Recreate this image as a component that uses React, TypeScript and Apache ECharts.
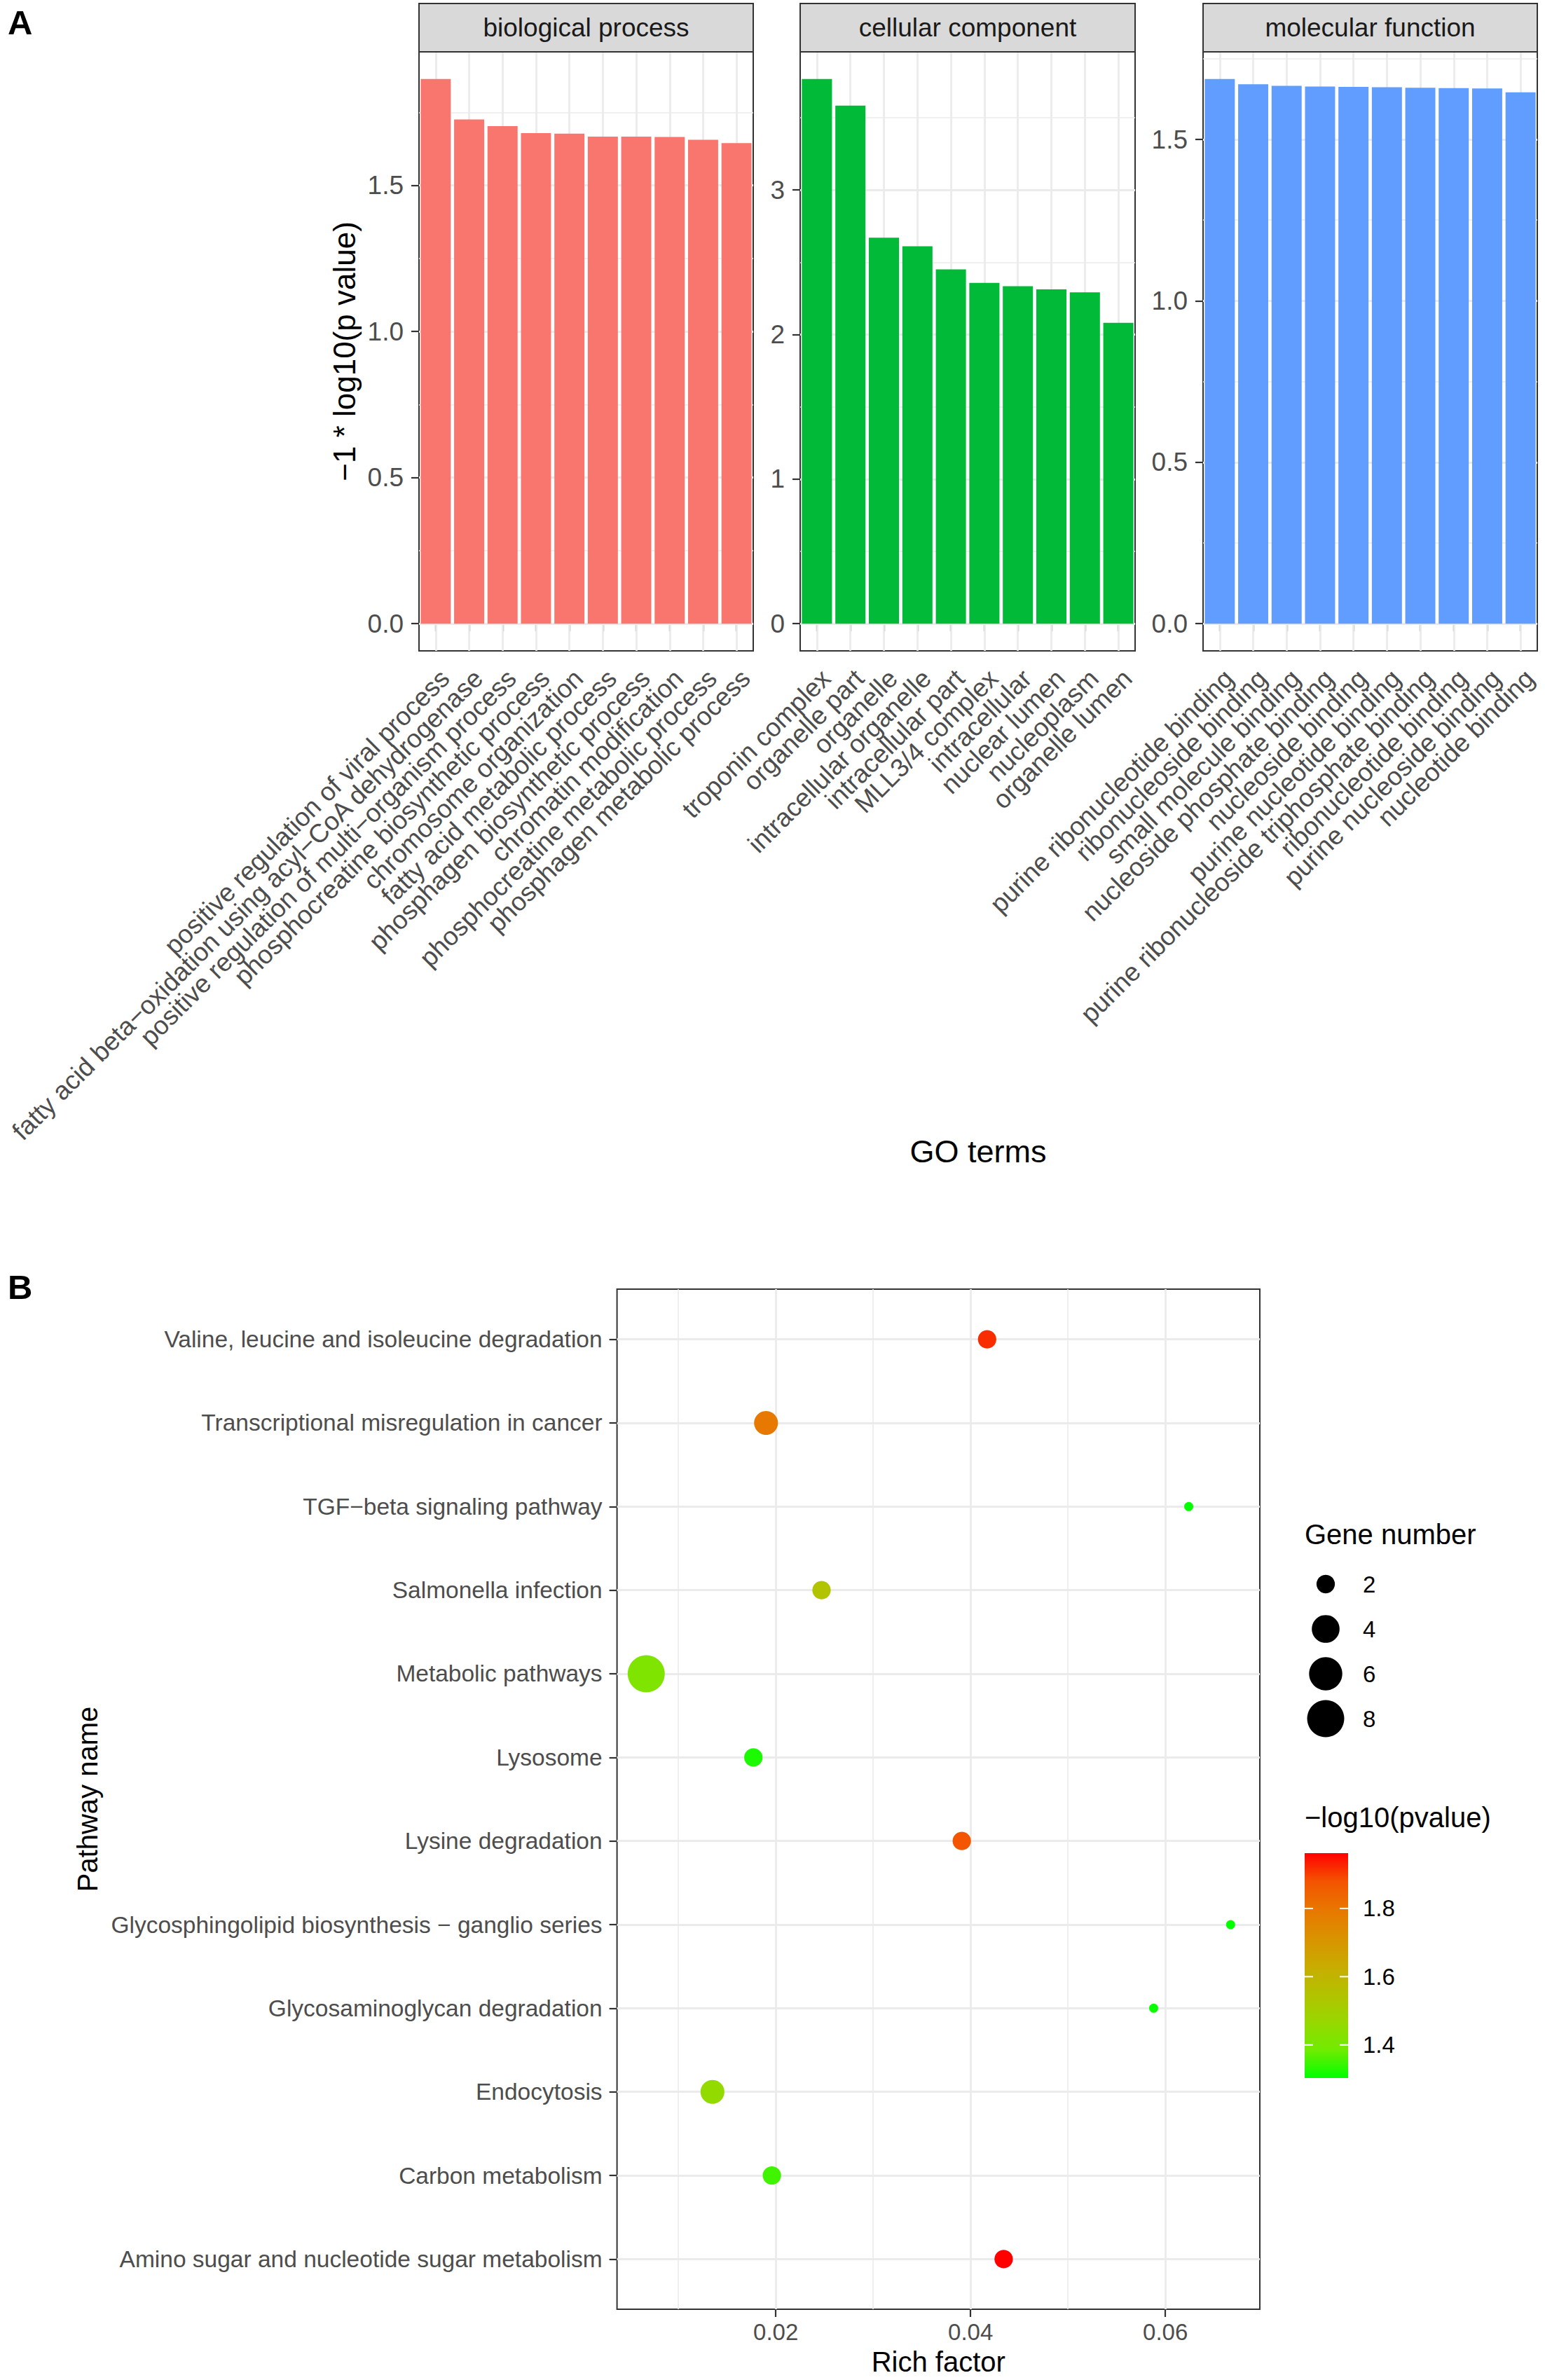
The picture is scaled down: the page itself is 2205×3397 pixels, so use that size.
import React, { useEffect, useRef } from "react";
import * as echarts from "echarts";

// ---------------- DATA ----------------
const bpTerms = [
  "positive regulation of viral process",
  "fatty acid beta−oxidation using acyl−CoA dehydrogenase",
  "positive regulation of multi−organism process",
  "phosphocreatine biosynthetic process",
  "chromosome organization",
  "fatty acid metabolic process",
  "phosphagen biosynthetic process",
  "chromatin modification",
  "phosphocreatine metabolic process",
  "phosphagen metabolic process",
];
const bpValues = [1.864, 1.726, 1.703, 1.679, 1.677, 1.667, 1.667, 1.666, 1.656, 1.645];

const ccTerms = [
  "troponin complex",
  "organelle part",
  "organelle",
  "intracellular organelle",
  "intracellular part",
  "MLL3/4 complex",
  "intracellular",
  "nuclear lumen",
  "nucleoplasm",
  "organelle lumen",
];
const ccValues = [3.767, 3.583, 2.67, 2.61, 2.451, 2.357, 2.334, 2.312, 2.292, 2.081];

const mfTerms = [
  "purine ribonucleotide binding",
  "ribonucleoside binding",
  "small molecule binding",
  "nucleoside phosphate binding",
  "nucleoside binding",
  "purine nucleotide binding",
  "purine ribonucleoside triphosphate binding",
  "ribonucleotide binding",
  "purine nucleoside binding",
  "nucleotide binding",
];
const mfValues = [1.687, 1.671, 1.666, 1.664, 1.663, 1.662, 1.66, 1.659, 1.658, 1.646];

const bpMajor = [0, 0.5, 1.0, 1.5];
const bpMinor = [0.25, 0.75, 1.25, 1.75];
const ccMajor = [0, 1, 2, 3];
const ccMinor = [0.5, 1.5, 2.5, 3.5];
const mfMajor = [0, 0.5, 1.0, 1.5];
const mfMinor = [0.25, 0.75, 1.25, 1.75];

// Panel B (top to bottom)
const pathwayNames = [
  "Valine, leucine and isoleucine degradation",
  "Transcriptional misregulation in cancer",
  "TGF−beta signaling pathway",
  "Salmonella infection",
  "Metabolic pathways",
  "Lysosome",
  "Lysine degradation",
  "Glycosphingolipid biosynthesis − ganglio series",
  "Glycosaminoglycan degradation",
  "Endocytosis",
  "Carbon metabolism",
  "Amino sugar and nucleotide sugar metabolism",
];
const richFactor = [0.0417, 0.019, 0.0624, 0.0247, 0.0067, 0.0177, 0.0391, 0.0667, 0.0588, 0.0135, 0.0196, 0.0434];
const geneNumber = [2, 3, 1, 2, 8, 2, 2, 1, 1, 3, 2, 2];
const negLog10P = [1.916, 1.79, 1.305, 1.547, 1.415, 1.323, 1.876, 1.303, 1.31, 1.455, 1.35, 1.962];

const richMajor = [0.02, 0.04, 0.06];
const richMinor = [0.01, 0.03, 0.05];
const geneBreaks = [2, 4, 6, 8];
const pBreaks = [1.4, 1.6, 1.8];

// ---------------- STYLE / LAYOUT ----------------
const W = 2205;
const H = 3397;
const FONT = "'Liberation Sans', Arial, Helvetica, sans-serif";
const AXIS_TEXT = "#4D4D4D";
const TICK = "#333333";
const GRID_LINE = "#EBEBEB";
const colorStops = ["#00FF00", "#70EB00", "#98D700", "#B3C200", "#C9AB00", "#DA9200", "#E87700", "#F45300", "#FF0000"];

const A_LEFT = [598, 1142, 1717];
const A_WIDTH = [477, 478, 477];
const STRIP_TOP = 5;
const A_TOP = 74;
const A_BOTTOM = 929;

const B_LEFT = 880.6;
const B_TOP = 1840;
const B_RIGHT = 1798;
const B_BOTTOM = 3296;

const sizeOf = (n: number) => 13 + 19.2 * Math.log(n);

function buildOption() {
  const panels = [
    { title: "biological process", terms: bpTerms, values: bpValues, color: "#F8766D", majors: bpMajor, minors: bpMinor, digits: 1 },
    { title: "cellular component", terms: ccTerms, values: ccValues, color: "#00BA38", majors: ccMajor, minors: ccMinor, digits: 0 },
    { title: "molecular function", terms: mfTerms, values: mfValues, color: "#619CFF", majors: mfMajor, minors: mfMinor, digits: 1 },
  ];

  const grids: any[] = [];
  const xAxes: any[] = [];
  const yAxes: any[] = [];
  const series: any[] = [];
  const graphic: any[] = [];

  const markLineBase = {
    silent: true,
    symbol: ["none", "none"],
    label: { show: false },
    emphasis: { disabled: true },
    lineStyle: { color: GRID_LINE, type: "solid", width: 2.8 },
    z: 1,
    animation: false,
  };

  panels.forEach((p, i) => {
    const vmax = Math.max(...p.values);
    grids.push({
      left: A_LEFT[i],
      top: A_TOP,
      width: A_WIDTH[i],
      height: A_BOTTOM - A_TOP,
      show: true,
      borderColor: TICK,
      borderWidth: 2,
      backgroundColor: "transparent",
      containLabel: false,
      outerBoundsMode: "none",
    });
    xAxes.push({
      type: "category",
      gridIndex: i,
      data: p.terms,
      boundaryGap: true,
      axisLine: { show: false },
      axisTick: { show: true, alignWithLabel: true, length: 11, lineStyle: { color: TICK, width: 2.2 } },
      axisLabel: {
        interval: 0,
        rotate: 45,
        align: "right",
        verticalAlign: "top",
        margin: 20,
        color: AXIS_TEXT,
        fontSize: 37,
        fontFamily: FONT,
        hideOverlap: false,
      },
      splitLine: { show: false },
    });
    yAxes.push({
      type: "value",
      gridIndex: i,
      min: -0.05 * vmax,
      max: 1.05 * vmax,
      axisLine: { show: false },
      axisTick: { show: true, length: 11, lineStyle: { color: TICK, width: 2.2 }, customValues: p.majors },
      axisLabel: {
        customValues: p.majors,
        formatter: (v: number) => v.toFixed(p.digits),
        color: AXIS_TEXT,
        fontSize: 37,
        fontFamily: FONT,
        margin: 22,
        showMinLabel: true,
        showMaxLabel: true,
      },
      splitLine: { show: false },
    });
    series.push({
      type: "bar",
      xAxisIndex: i,
      yAxisIndex: i,
      data: p.values,
      barCategoryGap: "10%",
      itemStyle: { color: p.color },
      z: 2,
      markLine: {
        ...markLineBase,
        data: [
          ...p.minors.map((v) => ({ yAxis: v, lineStyle: { width: 1.6 } })),
          ...p.majors.map((v) => ({ yAxis: v, lineStyle: { width: 2.8 } })),
          ...p.terms.map((t) => ({ xAxis: t, lineStyle: { width: 2.8 } })),
        ],
      },
    });
    // strip
    graphic.push({
      type: "rect",
      shape: { x: A_LEFT[i], y: STRIP_TOP, width: A_WIDTH[i], height: A_TOP - STRIP_TOP },
      style: { fill: "#D9D9D9", stroke: TICK, lineWidth: 2 },
      z: 10,
    });
    graphic.push({
      type: "text",
      x: A_LEFT[i] + A_WIDTH[i] / 2,
      y: (STRIP_TOP + A_TOP) / 2,
      style: {
        text: p.title,
        fill: "#1A1A1A",
        fontSize: 37,
        fontFamily: FONT,
        align: "center",
        verticalAlign: "middle",
        textAlign: "center",
        textVerticalAlign: "middle",
      },
      z: 11,
    });
  });

  // ---------- Panel B ----------
  const n = pathwayNames.length;
  const xmin = Math.min(...richFactor);
  const xmax = Math.max(...richFactor);
  const xr = xmax - xmin;
  const idxs = pathwayNames.map((_, i) => n - i);
  grids.push({
    left: B_LEFT,
    top: B_TOP,
    width: B_RIGHT - B_LEFT,
    height: B_BOTTOM - B_TOP,
    show: true,
    borderColor: TICK,
    borderWidth: 2,
    backgroundColor: "transparent",
    containLabel: false,
    outerBoundsMode: "none",
  });
  xAxes.push({
    type: "value",
    gridIndex: 3,
    min: xmin - 0.05 * xr,
    max: xmax + 0.05 * xr,
    axisLine: { show: false },
    axisTick: { show: true, length: 11, lineStyle: { color: TICK, width: 2.2 }, customValues: richMajor },
    axisLabel: {
      customValues: richMajor,
      formatter: (v: number) => v.toFixed(2),
      color: AXIS_TEXT,
      fontSize: 33,
      fontFamily: FONT,
      margin: 16,
    },
    splitLine: { show: false },
  });
  yAxes.push({
    type: "value",
    gridIndex: 3,
    min: 0.4,
    max: n + 0.6,
    axisLine: { show: false },
    axisTick: { show: true, length: 11, lineStyle: { color: TICK, width: 2.2 }, customValues: idxs },
    axisLabel: {
      customValues: idxs,
      formatter: (v: number) => pathwayNames[n - Math.round(v)] ?? "",
      color: AXIS_TEXT,
      fontSize: 33.5,
      fontFamily: FONT,
      margin: 21,
    },
    splitLine: { show: false },
  });
  const scatterIndex = series.length;
  series.push({
    type: "scatter",
    xAxisIndex: 3,
    yAxisIndex: 3,
    data: pathwayNames.map((nm, i) => [richFactor[i], n - i, negLog10P[i], geneNumber[i], nm]),
    encode: { x: 0, y: 1 },
    symbol: "circle",
    symbolSize: (val: any) => sizeOf(val[3]),
    itemStyle: { opacity: 1 },
    z: 2,
    markLine: {
      ...markLineBase,
      data: [
        ...richMinor.map((v) => ({ xAxis: v, lineStyle: { width: 1.6 } })),
        ...richMajor.map((v) => ({ xAxis: v, lineStyle: { width: 2.8 } })),
        ...idxs.map((v) => ({ yAxis: v, lineStyle: { width: 2.8 } })),
      ],
    },
  });

  const pMin = Math.min(...negLog10P);
  const pMax = Math.max(...negLog10P);

  // ---------- Titles ----------
  const txt = (text: string, x: number, y: number, size: number, opts: any = {}) => ({
    type: "text",
    x,
    y,
    rotation: opts.rotation || 0,
    style: {
      text,
      fill: opts.fill || "#000000",
      fontSize: size,
      fontFamily: FONT,
      fontWeight: opts.bold ? "bold" : "normal",
      align: opts.align || "center",
      verticalAlign: "middle",
      textAlign: opts.align || "center",
      textVerticalAlign: "middle",
    },
    z: 12,
  });

  graphic.push(txt("A", 11, 32, 49, { bold: true, align: "left" }));
  graphic.push(txt("B", 11, 1837, 49, { bold: true, align: "left" }));
  graphic.push(txt("−1 * log10(p value)", 491, (A_TOP + A_BOTTOM) / 2, 44, { rotation: Math.PI / 2 }));
  graphic.push(txt("GO terms", (A_LEFT[0] + A_LEFT[2] + A_WIDTH[2]) / 2, 1643, 45));
  graphic.push(txt("Pathway name", 125, (B_TOP + B_BOTTOM) / 2, 40, { rotation: Math.PI / 2 }));
  graphic.push(txt("Rich factor", (B_LEFT + B_RIGHT) / 2, 3371, 40));

  // ---------- Size legend ----------
  const LEG_X = 1862;
  graphic.push(txt("Gene number", LEG_X, 2190, 40, { align: "left" }));
  geneBreaks.forEach((b, i) => {
    const cy = 2261 + i * 64;
    graphic.push({ type: "circle", shape: { cx: 1892, cy, r: sizeOf(b) / 2 }, style: { fill: "#000000" }, z: 12 });
    graphic.push(txt(String(b), 1945, cy, 33, { align: "left" }));
  });

  // ---------- Colour bar ----------
  const CB_X = 1862;
  const CB_Y = 2645;
  const CB_W = 62;
  const CB_H = 321;
  graphic.push(txt("−log10(pvalue)", LEG_X, 2594, 40, { align: "left" }));
  const gradStops = colorStops
    .slice()
    .reverse()
    .map((c, i, arr) => ({ offset: i / (arr.length - 1), color: c }));
  graphic.push({
    type: "rect",
    shape: { x: CB_X, y: CB_Y, width: CB_W, height: CB_H },
    style: { fill: new echarts.graphic.LinearGradient(0, 0, 0, 1, gradStops) },
    z: 12,
  });
  pBreaks.forEach((b) => {
    const y = CB_Y + ((pMax - b) / (pMax - pMin)) * CB_H;
    graphic.push({ type: "line", shape: { x1: CB_X, y1: y, x2: CB_X + 12, y2: y }, style: { stroke: "#FFFFFF", lineWidth: 2 }, z: 13 });
    graphic.push({ type: "line", shape: { x1: CB_X + CB_W - 12, y1: y, x2: CB_X + CB_W, y2: y }, style: { stroke: "#FFFFFF", lineWidth: 2 }, z: 13 });
    graphic.push(txt(b.toFixed(1), 1945, y, 33, { align: "left" }));
  });

  return {
    animation: false,
    backgroundColor: "#FFFFFF",
    textStyle: { fontFamily: FONT },
    grid: grids,
    xAxis: xAxes,
    yAxis: yAxes,
    series,
    visualMap: [
      {
        type: "continuous",
        show: false,
        seriesIndex: scatterIndex,
        dimension: 2,
        min: pMin,
        max: pMax,
        inRange: { color: colorStops },
      },
    ],
    graphic,
  };
}

export default function App() {
  const ref = useRef<HTMLDivElement>(null);
  useEffect(() => {
    if (!ref.current) return;
    const chart = echarts.init(ref.current, null, { renderer: "svg", width: W, height: H });
    chart.setOption(buildOption() as any);
    return () => chart.dispose();
  }, []);
  return (
    <div
      ref={ref}
      style={{ position: "absolute", left: 0, top: 0, width: W, height: H, background: "#FFFFFF" }}
    />
  );
}
